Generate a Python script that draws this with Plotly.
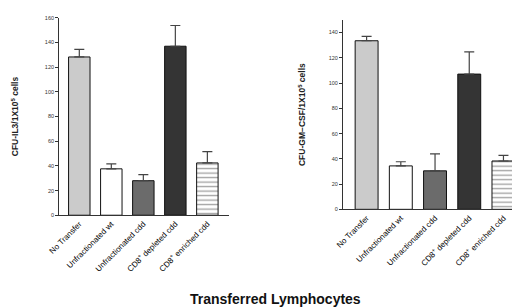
import plotly.graph_objects as go

categories = ["No Transfer", "Unfractionated wt", "Unfractionated cdd",
              "CD8<sup>+</sup> depleted cdd", "CD8<sup>+</sup> enriched cdd"]
il3_values = [128.3, 37.6, 28.0, 137.0, 42.4]
il3_errors = [6.1, 4.0, 4.9, 16.8, 9.2]
gm_values = [133.5, 34.4, 30.5, 107.1, 38.3]
gm_errors = [3.5, 3.3, 13.4, 17.6, 4.4]
il3_ticks = [0, 20, 40, 60, 80, 100, 120, 140, 160]
gm_ticks = [0, 20, 40, 60, 80, 100, 120, 140]

bar_colors = ["#cbcbcb", "#ffffff", "#6b6b6b", "#343434", "#ffffff"]
patterns = ["", "", "", "", "-"]
FONT = "Liberation Sans, Arial, sans-serif"

fig = go.Figure()

def add_bars(vals, errs, xa, ya):
    fig.add_trace(go.Bar(
        x=categories, y=vals, xaxis=xa, yaxis=ya,
        marker=dict(color=bar_colors, line=dict(color="#111", width=1),
                    pattern=dict(shape=patterns, fgcolor="#111", bgcolor="#ffffff",
                                 size=4.5, solidity=0.3, fillmode="overlay")),
        error_y=dict(type="data", array=errs, arrayminus=[0]*len(errs),
                     symmetric=False, color="#444", thickness=1.2, width=5),
        showlegend=False, width=0.67))

add_bars(il3_values, il3_errors, "x", "y")
add_bars(gm_values, gm_errors, "x2", "y2")

axis_common = dict(showline=True, linecolor="#333", linewidth=1, showgrid=False,
                   zeroline=False)
xtickfont = dict(size=8, color="#000", family=FONT)
ytickfont = dict(size=5.5, color="#333", family=FONT)
fig.update_layout(
    width=520, height=307, margin=dict(l=0, r=0, t=0, b=0),
    paper_bgcolor="white", plot_bgcolor="white",
    font=dict(family=FONT, color="#222"),
    xaxis=dict(domain=[41/520, 215/520], range=[-0.63, 4.69], tickangle=-45,
               ticks="", tickfont=xtickfont, anchor="y", **axis_common),
    yaxis=dict(domain=[(307-208.3)/307, (307-7)/307], range=[0, 160],
               tickvals=il3_ticks, ticks="outside", ticklen=3, tickcolor="#333",
               tickfont=ytickfont, anchor="x",
               title=dict(text="<b>CFU-IL3/1X10<sup>5</sup> cells</b>",
                          font=dict(size=8.5, color="#222"), standoff=24),
               **axis_common),
    xaxis2=dict(domain=[331/520, 518/520], range=[-0.69, 4.66], tickangle=-45,
                ticks="", tickfont=xtickfont, anchor="y2", **axis_common),
    yaxis2=dict(domain=[(307-202.3)/307, (307-9.1)/307], range=[0, 150],
                tickvals=gm_ticks, ticks="outside", ticklen=3, tickcolor="#333",
                tickfont=ytickfont, anchor="x2",
                title=dict(text="<b>CFU-GM\u2212CSF/1X10<sup>5</sup> cells</b>",
                           font=dict(size=8.5, color="#222"), standoff=21),
                **axis_common),
    annotations=[dict(text="<b>Transferred Lymphocytes</b>", x=262/520, y=(307-304)/307,
                      xref="paper", yref="paper", showarrow=False,
                      font=dict(size=14, color="#111", family=FONT),
                      xanchor="center", yanchor="bottom")],
)

fig.write_html("out.html")
